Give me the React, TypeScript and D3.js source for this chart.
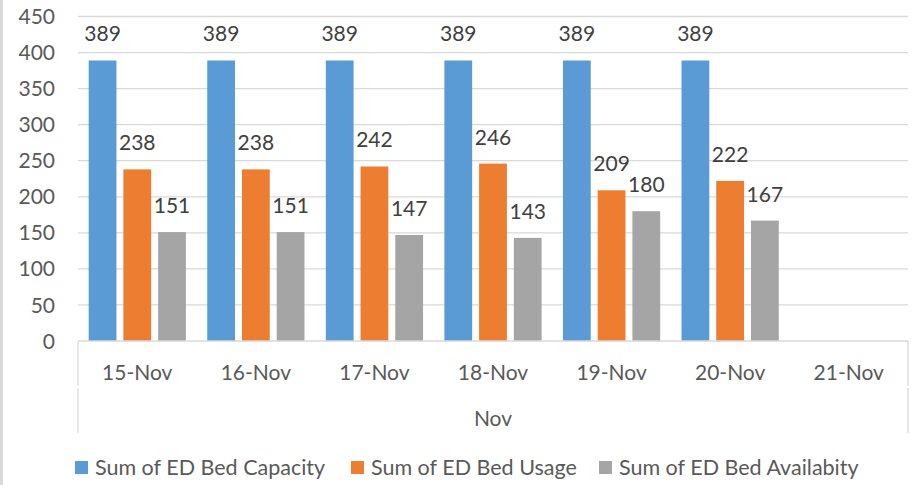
import React from "react";
import * as d3 from "d3";

const categories = ["15-Nov", "16-Nov", "17-Nov", "18-Nov", "19-Nov", "20-Nov", "21-Nov"];
const groupLabel = "Nov";
const seriesNames = ["Sum of ED Bed Capacity", "Sum of ED Bed Usage", "Sum of ED Bed Availabity"];
const capacity: (number | null)[] = [389, 389, 389, 389, 389, 389, null];
const usage: (number | null)[] = [238, 238, 242, 246, 209, 222, null];
const availability: (number | null)[] = [151, 151, 147, 143, 180, 167, null];
const yTicks = [0, 50, 100, 150, 200, 250, 300, 350, 400, 450];
const colors = ["#5b9bd5", "#ed7d31", "#a5a5a5"];

const W = 915;
const H = 485;
const left = 78;
const right = 908;
const top = 16.5;
const bottom = 341;
const FONT = "Lato, 'Open Sans', sans-serif";

export default function App() {
  const series = [capacity, usage, availability];
  const y = d3.scaleLinear().domain([0, 450]).range([bottom, top]);
  const x0 = d3.scaleBand<string>().domain(categories).range([left, right]).padding(0);
  const bw = x0.bandwidth();
  const outer = bw * 0.09;
  const x1 = d3
    .scaleBand<string>()
    .domain(seriesNames)
    .range([outer, bw - outer])
    .paddingInner(0.2)
    .paddingOuter(0);

  const legendX = [75, 351, 599];

  return (
    <svg
      width={W}
      height={H}
      style={{ position: "absolute", left: 0, top: 0, background: "#fff" }}
      fontFamily={FONT}
    >
      <rect x={0} y={0} width={W} height={H} fill="#fff" />
      <rect x={0} y={0} width={3} height={H} fill="#d9d9d9" />
      {yTicks
        .filter((t) => t > 0)
        .map((t) => (
          <line key={t} x1={left} x2={right} y1={y(t)} y2={y(t)} stroke="#d9d9d9" strokeWidth={1.3} />
        ))}
      {yTicks.map((t) => (
        <text key={"l" + t} x={55} y={y(t)} dy="0.36em" textAnchor="end" fontSize={21} fill="#595959">
          {t}
        </text>
      ))}
      {categories.map((c, i) => (
        <g key={c} transform={`translate(${x0(c)},0)`}>
          {series.map((s, k) => {
            const v = s[i];
            if (v == null) return null;
            const bx = x1(seriesNames[k])!;
            const bwid = x1.bandwidth();
            return (
              <g key={k}>
                <rect x={bx} y={y(v)} width={bwid} height={y(0) - y(v)} fill={colors[k]} />
                <text x={bx + bwid / 2} y={y(v) - 19} textAnchor="middle" fontSize={21} fill="#404040">
                  {v}
                </text>
              </g>
            );
          })}
        </g>
      ))}
      <line x1={left} x2={right} y1={bottom} y2={bottom} stroke="#d9d9d9" strokeWidth={1.3} />
      <line x1={left} x2={left} y1={bottom} y2={386} stroke="#d9d9d9" strokeWidth={1.3} />
      <line x1={left} x2={left} y1={388} y2={433} stroke="#d9d9d9" strokeWidth={1.3} />
      <line x1={right} x2={right} y1={bottom} y2={386} stroke="#d9d9d9" strokeWidth={1.3} />
      <line x1={right} x2={right} y1={388} y2={433} stroke="#d9d9d9" strokeWidth={1.3} />
      {categories.map((c) => (
        <text
          key={"c" + c}
          x={x0(c)! + bw / 2}
          y={372.5}
          dy="0.36em"
          textAnchor="middle"
          fontSize={21}
          fill="#595959"
        >
          {c}
        </text>
      ))}
      <text x={(left + right) / 2} y={418} dy="0.36em" textAnchor="middle" fontSize={21} fill="#595959">
        {groupLabel}
      </text>
      {seriesNames.map((n, k) => (
        <g key={n}>
          <rect x={legendX[k]} y={461} width={13} height={13} fill={colors[k]} />
          <text x={legendX[k] + 20} y={467.5} dy="0.36em" fontSize={21.5} fill="#595959">
            {n}
          </text>
        </g>
      ))}
    </svg>
  );
}
